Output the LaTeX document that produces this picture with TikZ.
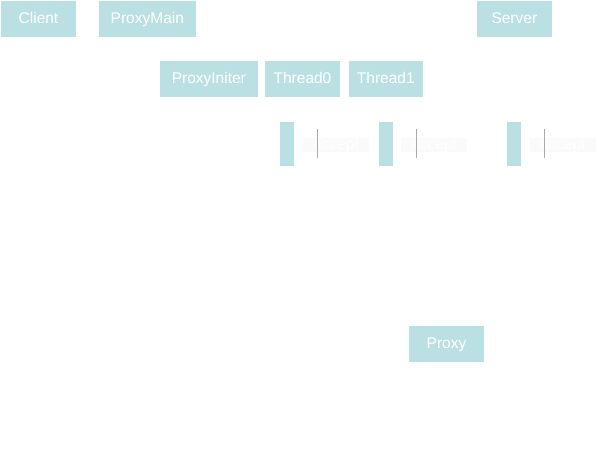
\documentclass[tikz,border=0pt]{standalone}
\usepackage{fontspec}
\setmainfont{Liberation Sans}
\definecolor{boxc}{RGB}{187,224,227}
\definecolor{lblbg}{RGB}{250,250,250}
\definecolor{linec}{RGB}{170,170,170}
\begin{document}
\begin{tikzpicture}[x=1pt,y=-1pt,
  actor/.style={fill=boxc, draw=none, inner sep=0pt, text=white, font=\fontsize{15.5}{18}\selectfont, minimum height=35.7pt, text height=11.2pt, text depth=1.5pt},
  bar/.style={fill=boxc, draw=none, inner sep=0pt, minimum width=14pt, minimum height=44pt},
  lbl/.style={fill=lblbg, draw=none, inner sep=0pt, text=white, font=\fontsize{15.5}{18}\selectfont, minimum width=66pt, minimum height=14pt, text height=11pt, text depth=3pt},
  tick/.style={draw=linec, line width=1pt}]
\useasboundingbox (0,0) rectangle (598,471);
\node[actor, minimum width=75pt] (client) at (38.5,18.85) {Client};
\node[actor, minimum width=96.7pt] (proxymain) at (147.35,18.85) {ProxyMain};
\node[actor, minimum width=74.7pt] (server) at (514.35,18.85) {Server};
\node[actor, minimum width=97.7pt] (proxyiniter) at (208.85,78.85) {ProxyIniter};
\node[actor, minimum width=75pt] (thread0) at (302.5,78.85) {Thread0};
\node[actor, minimum width=73.7pt] (thread1) at (385.85,78.85) {Thread1};
\node[actor, minimum width=75pt] (proxy) at (446.5,343.85) {Proxy};
\node[bar] (bar0) at (287,144) {};
\node[bar] (bar1) at (386,144) {};
\node[bar] (bar2) at (514,144) {};
\node[lbl] (acc0) at (336,145) {accept};
\node[lbl] (acc1) at (434,145) {accept};
\node[lbl] (acc2) at (562.7,145) {accept};
\coordinate (t0a) at (317.3,129); \coordinate (t0b) at (317.3,158);
\coordinate (t1a) at (416.3,129); \coordinate (t1b) at (416.3,158);
\coordinate (t2a) at (544.3,129); \coordinate (t2b) at (544.3,158);
\draw[tick] (t0a) -- (t0b);
\draw[tick] (t1a) -- (t1b);
\draw[tick] (t2a) -- (t2b);
\end{tikzpicture}
\end{document}
